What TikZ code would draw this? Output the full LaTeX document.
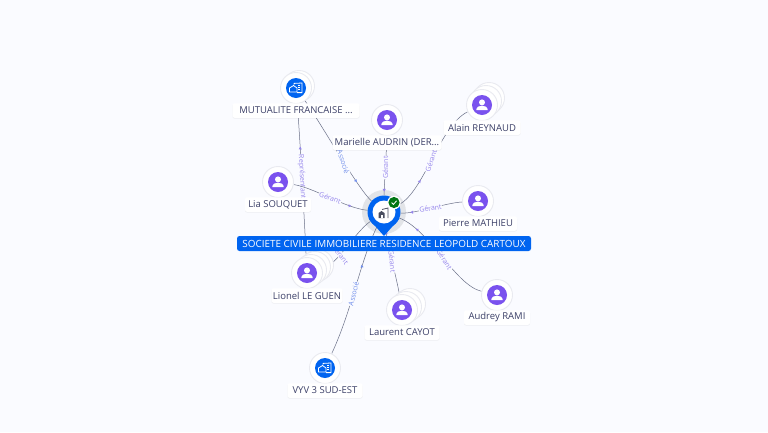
\documentclass[tikz,border=0pt]{standalone}
\usepackage{fontspec}
\setmainfont{Open Sans}
\usepackage{tikz}
\usetikzlibrary{backgrounds,shadows,shapes.geometric}
\definecolor{pagetint}{HTML}{FAFBFF}
\definecolor{firmblue}{HTML}{0064F0}
\definecolor{personviolet}{HTML}{7A52EE}
\definecolor{captionink}{HTML}{3C4068}
\definecolor{rimgrey}{HTML}{E9EAF0}
\definecolor{haloink}{HTML}{E2E4E8}
\definecolor{edgeink}{HTML}{6A7088}
\definecolor{gerantink}{HTML}{9585EC}
\definecolor{associeink}{HTML}{6F8DEA}
\tikzset{
	disc/.style={circle,fill=white,draw=rimgrey,line width=0.9pt,minimum size=31pt,inner sep=0pt},
	caption/.style={rectangle,rounded corners=2pt,fill=white,text=captionink,inner sep=0pt,
		minimum height=14.5pt,font=\fontsize{9.5}{10}\selectfont,
		drop shadow={opacity=0.1,shadow xshift=0pt,shadow yshift=-0.8pt}},
	edgelabel/.style={fill=pagetint,inner sep=0.5pt,font=\fontsize{7}{7}\selectfont},
	tipmark/.style={regular polygon,regular polygon sides=3,inner sep=0pt,minimum size=3.6pt}
}
\newcommand{\personicon}[1]{
	\fill[personviolet] (#1) circle (10);
	\fill[white] ($(#1)+(0,-2.6)$) circle (3);
	\fill[white] ($(#1)+(-5.6,5.2)$) -- ++(0,-1.3) arc[start angle=180,end angle=0,x radius=5.6,y radius=-3.2] -- ++(0,1.3) -- cycle;
}
\newcommand{\towericon}[2]{
	\draw[#2,line width=0.8pt,line join=round] ($(#1)+(-6.5,4)$) -- ++(0,-4) -- ++(4,-2.5) -- ++(3.5,2.5) -- ++(0,4) -- cycle;
	\draw[#2,line width=0.8pt,line join=round] ($(#1)+(-2,-3.4)$) -- ++(0,-1.2) -- ++(8,-0.4) -- ++(0,9.6) -- ++(-5,0);
	\draw[#2,line width=0.7pt] ($(#1)+(2.4,-2.2)$) -- ++(2,0) ($(#1)+(2.4,-0.2)$) -- ++(2,0) ($(#1)+(2.4,1.8)$) -- ++(2,0);
}
\newcommand{\personnode}[6]{
	\foreach \dx/\dy in {#6} {
		\node[disc] at ($(#2,#3)+(\dx,\dy)$) {};
	}
	\node[disc] (#1) at (#2,#3) {};
	\personicon{#2,#3}
	\node[caption,minimum width=#5pt] (#1cap) at (#2,#3+22.5) {#4};
}
\newcommand{\firmnode}[6]{
	\foreach \dx/\dy in {#6} {
		\node[disc] at ($(#2,#3)+(\dx,\dy)$) {};
	}
	\node[disc] (#1) at (#2,#3) {};
	\fill[firmblue] (#2,#3) circle (10);
	\towericon{#2,#3}{white}
	\node[caption,minimum width=#5pt] (#1cap) at (#2,#3+22.5) {#4};
}
\usetikzlibrary{calc}
\begin{document}
\begin{tikzpicture}[x=1pt,y=-1pt]
	\useasboundingbox (0,0) rectangle (768,432);
	\firmnode{mutualite}{296}{88}{MUTUALITE FRANCAISE ...}{127}{3/-2}
	\personnode{marielle}{387}{120}{Marielle AUDRIN (DER...}{109}{}
	\personnode{alain}{482}{105}{Alain REYNAUD}{77}{7/-7,4/-4}
	\personnode{lia}{278}{182}{Lia SOUQUET}{66}{}
	\personnode{pierre}{478}{201}{Pierre MATHIEU}{78}{}
	\personnode{lionel}{307}{273}{Lionel LE GUEN}{71}{11/-8,8/-6,4/-3}
	\personnode{laurent}{402}{310}{Laurent CAYOT}{75}{8/-6,4/-3}
	\personnode{audrey}{497}{295}{Audrey RAMI}{66}{}
	\firmnode{vyv}{325}{368}{VYV 3 SUD-EST}{75}{}
	\node[circle,fill=firmblue,minimum size=33pt,inner sep=0pt] (pin) at (384,212) {};
	\fill[firmblue] (369,219) -- (384,236) -- (399,219) -- cycle;
	\fill[white] (pin) circle (11.5);
	\fill[edgeink!70!black] (378.5,218) -- ++(0,-5) -- ++(3,-2) -- ++(3,2) -- ++(0,5) -- cycle;
	\draw[edgeink!70!black,line width=0.8pt] (382,209.5) -- ++(6,-1.5) -- ++(0,10);
	\fill[white] (380.5,215) rectangle +(2,3);
	\node[circle,fill=white,minimum size=13.5pt,inner sep=0pt] (check) at (394,202.5) {};
	\fill[green!45!black!85!teal] (check) circle (5.6);
	\draw[white,line width=0.8pt] (391.6,202.6) -- (393.4,204.4) -- (396.6,200.8);
	\node[rectangle,rounded corners=2.5pt,fill=firmblue,text=white,minimum width=294pt,minimum height=15pt,inner sep=0pt,font=\fontsize{9.9}{10}\selectfont] (firmcap) at (384,243.5) {SOCIETE CIVILE IMMOBILIERE RESIDENCE LEOPOLD CARTOUX};
	\begin{scope}[on background layer]
		\fill[pagetint] (0,0) rectangle (768,432);
		\fill[haloink] (pin) circle (22);
		\foreach \a/\b/\ca/\cb/\txt/\ink/\lp/\lr/\tp/\tr in {
			mutualite/lionel/{4,50}/{-3,-60}/Représentant/gerantink/0.5/-87/0.33/0,
			mutualite/pin/{26,37}/{-26,-23}/Associé/associeink/0.55/-72/0.72/-20,
			marielle/pin/{0,20}/{0,-20}/Gérant/gerantink/0.52/90/0.83/180,
			alain/pin/{-42,20}/{40,-20}/Gérant/gerantink/0.52/71/0.7/200,
			lia/pin/{37,6}/{-39,-4}/Gérant/gerantink/0.5/-20/0.75/150,
			pierre/pin/{-33,2}/{31,2}/Gérant/gerantink/0.5/10/0.78/90,
			audrey/pin/{-42,-10}/{46,18}/Gérant/gerantink/0.47/-58/0.8/300,
			laurent/pin/{-5,-30}/{3,30}/Gérant/gerantink/0.5/-84/0.9/0,
			lionel/pin/{30,-8}/{-29,20}/Gérant/gerantink/0.38/-52/0.64/30,
			vyv/pin/{27,-58}/{-24,50}/Associé/associeink/0.45/76/0.66/10
		} {
			\draw[edgeink,line width=0.5pt] (\a) .. controls +(\ca) and +(\cb) .. (\b)
				node[edgelabel,text=\ink,pos=\lp,rotate=\lr] (\a\b lbl) {\txt}
				node[tipmark,fill=\ink,pos=\tp,rotate=\tr] (\a\b tip) {};
		}
	\end{scope}
\end{tikzpicture}
\end{document}
